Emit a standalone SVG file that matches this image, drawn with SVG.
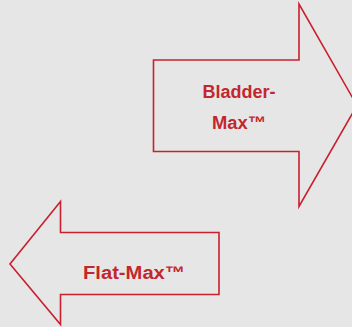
<svg xmlns="http://www.w3.org/2000/svg" width="352" height="327" viewBox="0 0 352 327">
<style>
.arrow{fill:none;stroke:#c8202e;stroke-width:1.6;stroke-linejoin:miter}
.lbl{font-family:"Liberation Sans",Arial,sans-serif;font-weight:bold;font-size:18px;fill:#c4262e;text-anchor:middle}
</style>
<rect x="0" y="0" width="352" height="327" fill="#e6e6e6"/>
<g id="bladder-max">
<polygon class="arrow" points="153.5,60 299,60 299,4 357,105.5 299,206.5 299,151.5 153.5,151.5"/>
<text class="lbl" x="239" y="97.5">Bladder-</text>
<text class="lbl" x="239" y="129" textLength="54" lengthAdjust="spacingAndGlyphs">Max™</text>
</g>
<g id="flat-max">
<polygon class="arrow" points="219,232.5 60.5,232.5 60.5,201.5 10,264 60.5,324.5 60.5,294.5 219,294.5"/>
<text class="lbl" x="134" y="278.5" textLength="102" lengthAdjust="spacingAndGlyphs">Flat-Max™</text>
</g>
<g id="connectors"/>
</svg>
